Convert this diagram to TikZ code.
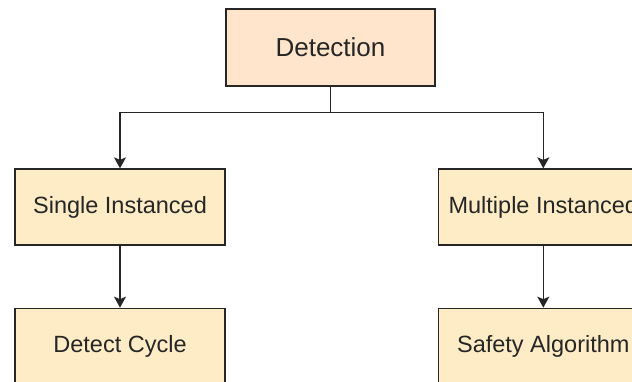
\documentclass[tikz,border=0pt]{standalone}
\usepackage{fontspec}
\setmainfont{Liberation Sans}
\usepackage{tikz}
\usetikzlibrary{arrows.meta, positioning, calc}

\begin{document}
\begin{tikzpicture}[
	  x=1pt, y=-1pt,
	  font=\fontsize{23.5pt}{28pt}\selectfont,
	  box/.style={
	    draw=black!85,
	    line width=1.3pt,
	    align=center,
	    inner sep=0pt,
	    minimum width=210pt,
	    minimum height=76pt,
	    text=black!85,
	    fill=yellow!20!orange!12
	  },
	  rootbox/.style={box,minimum width=209pt,minimum height=77pt,fill=orange!20,
	    font=\fontsize{26pt}{30pt}\selectfont},
	  leafbox/.style={box,fill=yellow!35!orange!20},
	  line/.style={draw=black!85,line width=1.3pt},
	  arrow/.style={line,-{Stealth[length=11pt,width=12pt,inset=2.5pt]}}
	]
	
	\clip (0,0) rectangle (632,381);
	
	\node[rootbox] (detection) at (330.5,47.5) {Detection};
	\node[leafbox] (single) at (120,207) {Single Instanced};
	\node[leafbox,right=212pt of single] (multiple) {Multiple Instanced};
	\node[leafbox,below=62pt of single] (cycle) {Detect Cycle};
	\node[leafbox,below=62pt of multiple] (safety) {Safety Algorithm};
	
	\coordinate (split) at ($(detection.south)+(0,-26pt)$);
	
	\draw[line] (detection.south) -- (split);
	\draw[arrow] (split) -| (single.north);
	\draw[arrow] (split) -| (multiple.north);
	\draw[arrow] (single) -- (cycle);
	\draw[arrow] (multiple) -- (safety);
	
	\end{tikzpicture}
\end{document}
